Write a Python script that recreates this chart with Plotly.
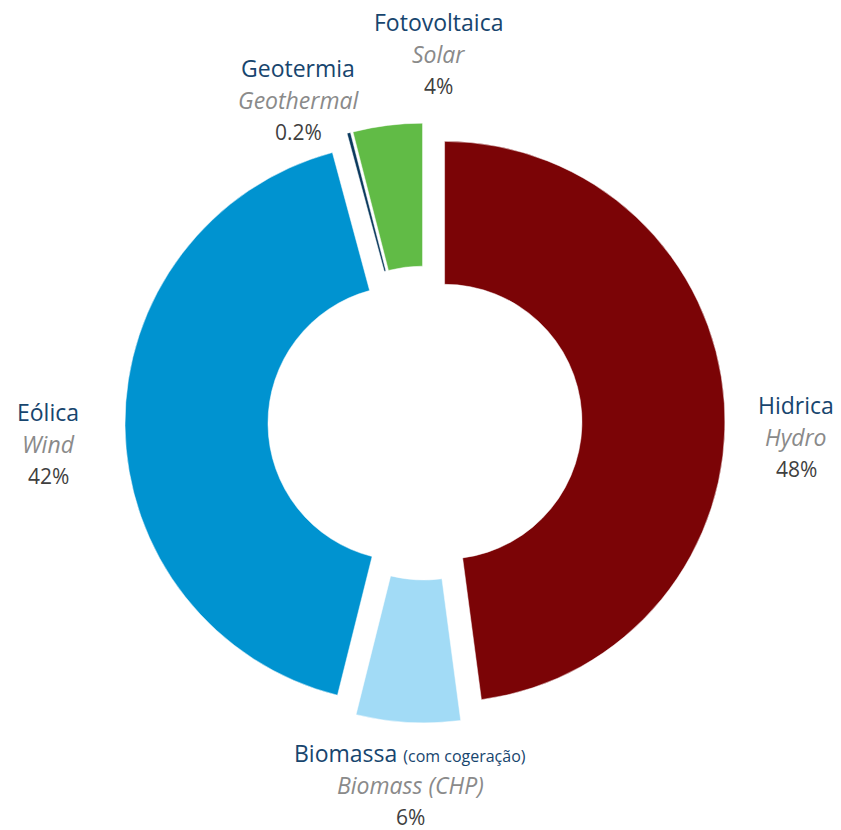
import plotly.graph_objects as go

names_pt = ["Hidrica", "Biomassa", "Eólica", "Geotermia", "Fotovoltaica"]
names_en = ["Hydro", "Biomass (CHP)", "Wind", "Geothermal", "Solar"]
values = [48, 6, 42, 0.2, 4]
pct_labels = ["48%", "6%", "42%", "0.2%", "4%"]
colors = ["#7B0406", "#A2DBF6", "#0093D0", "#0B3A5E", "#61BB46"]

W, H = 841, 830
fig = go.Figure(go.Pie(
    values=values,
    labels=names_en,
    sort=False,
    direction="clockwise",
    rotation=0,
    hole=0.49,
    pull=[0.07] * 5,
    marker=dict(colors=colors, line=dict(color="white", width=0.5)),
    textinfo="none",
    hoverinfo="skip",
    showlegend=False,
    domain=dict(x=[125 / W, 725 / W], y=[1 - 723 / H, 1 - 123 / H]),
))

# label anchor centers (px) for each slice: x, y of first line
label_pos = [(796, 405), (410, 753), (48, 412), (298, 68), (438, 22)]
FONT = "'Open Sans', sans-serif"
ann = []
for i, (px, py) in enumerate(label_pos):
    title = names_pt[i]
    if names_pt[i] == "Biomassa":
        title = "Biomassa <span style='font-size:16px'>(com cogeração)</span>"
    lines = [
        (title, dict(size=23, color="#17456E", family=FONT)),
        ("<i>" + names_en[i] + "</i>", dict(size=23, color="#8A8A8A", family=FONT)),
        (pct_labels[i], dict(size=21, color="#3F3F3F", family=FONT)),
    ]
    for j, (txt, f) in enumerate(lines):
        ann.append(dict(
            text=txt, x=px / W, y=1 - (py + j * 32) / H,
            xref="paper", yref="paper", showarrow=False,
            xanchor="center", yanchor="middle", font=f,
        ))

fig.update_layout(
    width=W, height=H,
    margin=dict(l=0, r=0, t=0, b=0),
    paper_bgcolor="white", plot_bgcolor="white",
    annotations=ann,
)
fig.write_html("out.html")
